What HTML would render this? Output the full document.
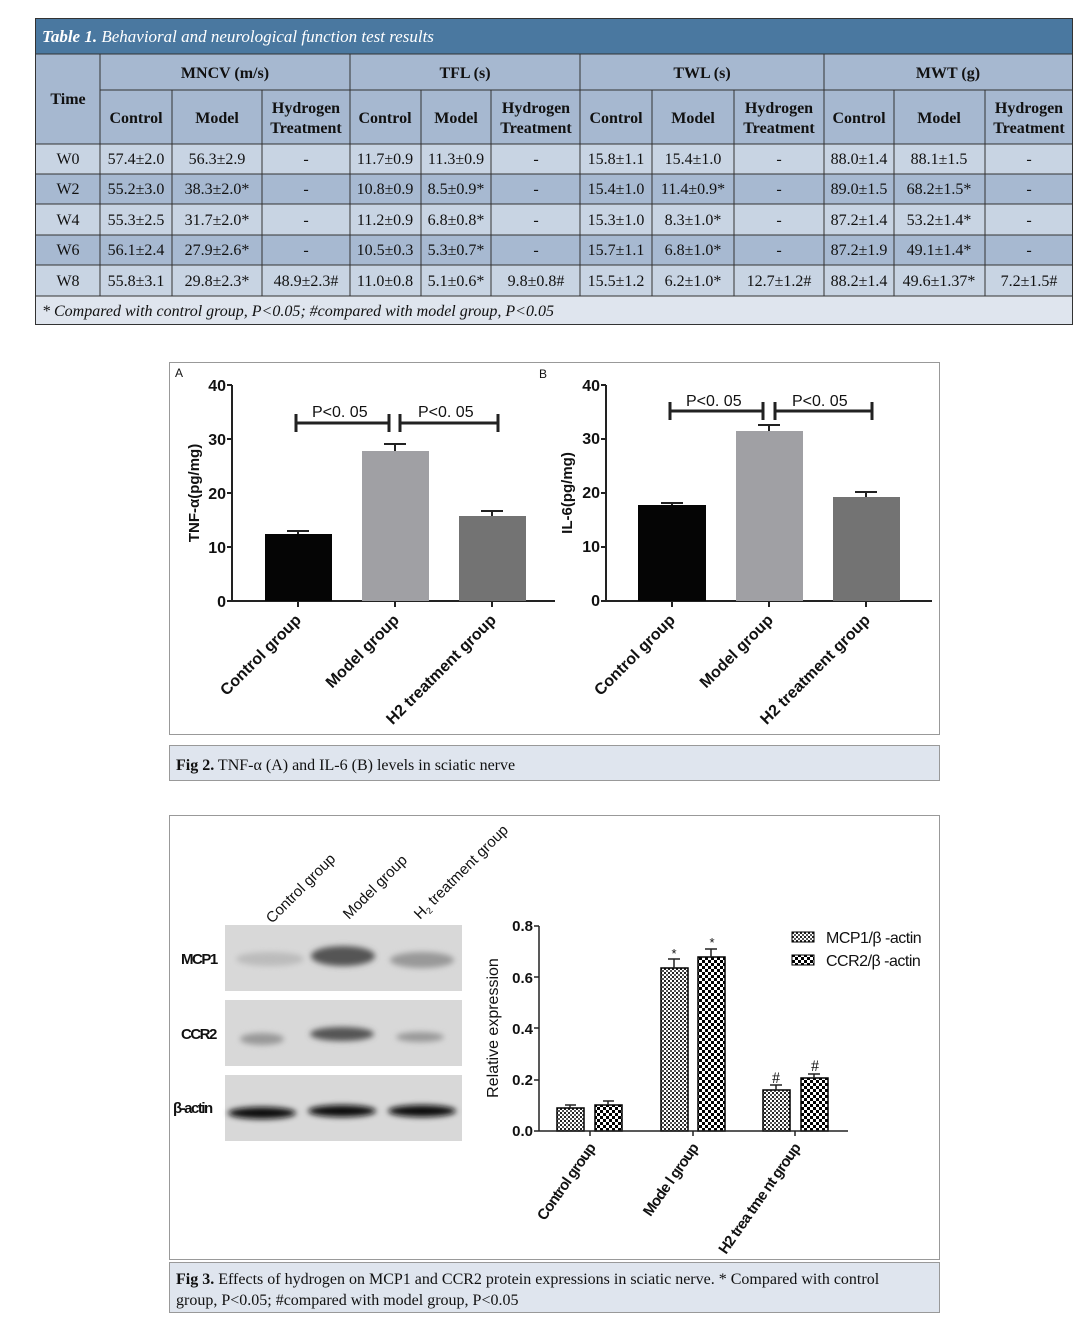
<!DOCTYPE html>
<html><head><meta charset="utf-8"><style>
html,body{margin:0;padding:0;background:#fff;}
svg{display:block;}
.s{font-family:"Liberation Serif",serif;font-size:16px;fill:#111;}
.b{font-weight:bold;}
.a{font-family:"Liberation Sans",sans-serif;fill:#111;}
</style></head><body>
<svg width="1080" height="1331" viewBox="0 0 1080 1331" xmlns="http://www.w3.org/2000/svg">
<defs>
<pattern id="p1" width="4" height="4" patternUnits="userSpaceOnUse"><rect width="4" height="4" fill="#fff"/><rect width="2" height="2" fill="#222"/><rect x="2" y="2" width="2" height="2" fill="#555"/></pattern>
<pattern id="p2" width="6" height="6" patternUnits="userSpaceOnUse"><rect width="6" height="6" fill="#fff"/><rect width="3" height="3" fill="#000"/><rect x="3" y="3" width="3" height="3" fill="#000"/></pattern>
<filter id="bl"><feGaussianBlur stdDeviation="3"/></filter>
</defs>
<!-- TABLE -->
<rect x="35" y="18" width="1038" height="36" fill="#4a78a0"/>
<text x="42" y="42" class="s" style="fill:#fff;font-style:italic;font-size:17px"><tspan font-weight="bold">Table 1.</tspan> Behavioral and neurological function test results</text>
<rect x="35" y="54" width="1038" height="90" fill="#a6b8d0"/>
<rect x="35" y="144" width="1038" height="30" fill="#c8d4e3"/>
<rect x="35" y="174" width="1038" height="30" fill="#a7b9d1"/>
<rect x="35" y="204" width="1038" height="31" fill="#c8d4e3"/>
<rect x="35" y="235" width="1038" height="30" fill="#a7b9d1"/>
<rect x="35" y="265" width="1038" height="31" fill="#c8d4e3"/>
<rect x="35" y="296" width="1038" height="29" fill="#dfe5ee"/>
<g stroke="#333" stroke-width="1" fill="none">
<rect x="35.5" y="18.5" width="1037" height="306"/>
<line x1="35" y1="54" x2="1073" y2="54"/>
<line x1="100" y1="90" x2="1073" y2="90"/>
<line x1="35" y1="144" x2="1073" y2="144"/>
<line x1="35" y1="174" x2="1073" y2="174"/>
<line x1="35" y1="204" x2="1073" y2="204"/>
<line x1="35" y1="235" x2="1073" y2="235"/>
<line x1="35" y1="265" x2="1073" y2="265"/>
<line x1="35" y1="296" x2="1073" y2="296"/>
<line x1="100" y1="54" x2="100" y2="296"/>
<line x1="350" y1="54" x2="350" y2="296"/>
<line x1="580" y1="54" x2="580" y2="296"/>
<line x1="824" y1="54" x2="824" y2="296"/>
<line x1="172" y1="90" x2="172" y2="296"/><line x1="262" y1="90" x2="262" y2="296"/>
<line x1="421" y1="90" x2="421" y2="296"/><line x1="491" y1="90" x2="491" y2="296"/>
<line x1="652" y1="90" x2="652" y2="296"/><line x1="734" y1="90" x2="734" y2="296"/>
<line x1="894" y1="90" x2="894" y2="296"/><line x1="985" y1="90" x2="985" y2="296"/>
</g>
<g class="s b" text-anchor="middle">
<text x="68" y="104">Time</text>
<text x="225" y="78">MNCV (m/s)</text><text x="465" y="78">TFL (s)</text><text x="702" y="78">TWL (s)</text><text x="948" y="78">MWT (g)</text>
<text x="136" y="123">Control</text><text x="217" y="123">Model</text><text x="306" y="113">Hydrogen</text><text x="306" y="133">Treatment</text>
<text x="385" y="123">Control</text><text x="456" y="123">Model</text><text x="536" y="113">Hydrogen</text><text x="536" y="133">Treatment</text>
<text x="616" y="123">Control</text><text x="693" y="123">Model</text><text x="779" y="113">Hydrogen</text><text x="779" y="133">Treatment</text>
<text x="859" y="123">Control</text><text x="939" y="123">Model</text><text x="1029" y="113">Hydrogen</text><text x="1029" y="133">Treatment</text>
</g>
<g class="s" text-anchor="middle">
<text x="68" y="164">W0</text><text x="136" y="164">57.4±2.0</text><text x="217" y="164">56.3±2.9</text><text x="306" y="164">-</text><text x="385" y="164">11.7±0.9</text><text x="456" y="164">11.3±0.9</text><text x="536" y="164">-</text><text x="616" y="164">15.8±1.1</text><text x="693" y="164">15.4±1.0</text><text x="779" y="164">-</text><text x="859" y="164">88.0±1.4</text><text x="939" y="164">88.1±1.5</text><text x="1029" y="164">-</text>
<text x="68" y="194">W2</text><text x="136" y="194">55.2±3.0</text><text x="217" y="194">38.3±2.0*</text><text x="306" y="194">-</text><text x="385" y="194">10.8±0.9</text><text x="456" y="194">8.5±0.9*</text><text x="536" y="194">-</text><text x="616" y="194">15.4±1.0</text><text x="693" y="194">11.4±0.9*</text><text x="779" y="194">-</text><text x="859" y="194">89.0±1.5</text><text x="939" y="194">68.2±1.5*</text><text x="1029" y="194">-</text>
<text x="68" y="225">W4</text><text x="136" y="225">55.3±2.5</text><text x="217" y="225">31.7±2.0*</text><text x="306" y="225">-</text><text x="385" y="225">11.2±0.9</text><text x="456" y="225">6.8±0.8*</text><text x="536" y="225">-</text><text x="616" y="225">15.3±1.0</text><text x="693" y="225">8.3±1.0*</text><text x="779" y="225">-</text><text x="859" y="225">87.2±1.4</text><text x="939" y="225">53.2±1.4*</text><text x="1029" y="225">-</text>
<text x="68" y="255">W6</text><text x="136" y="255">56.1±2.4</text><text x="217" y="255">27.9±2.6*</text><text x="306" y="255">-</text><text x="385" y="255">10.5±0.3</text><text x="456" y="255">5.3±0.7*</text><text x="536" y="255">-</text><text x="616" y="255">15.7±1.1</text><text x="693" y="255">6.8±1.0*</text><text x="779" y="255">-</text><text x="859" y="255">87.2±1.9</text><text x="939" y="255">49.1±1.4*</text><text x="1029" y="255">-</text>
<text x="68" y="286">W8</text><text x="136" y="286">55.8±3.1</text><text x="217" y="286">29.8±2.3*</text><text x="306" y="286">48.9±2.3#</text><text x="385" y="286">11.0±0.8</text><text x="456" y="286">5.1±0.6*</text><text x="536" y="286">9.8±0.8#</text><text x="616" y="286">15.5±1.2</text><text x="693" y="286">6.2±1.0*</text><text x="779" y="286">12.7±1.2#</text><text x="859" y="286">88.2±1.4</text><text x="939" y="286">49.6±1.37*</text><text x="1029" y="286">7.2±1.5#</text>
</g>
<text x="42" y="316" class="s" style="font-style:italic">* Compared with control group, P&lt;0.05; #compared with model group, P&lt;0.05</text>

<!-- FIG 2 -->
<rect x="169.5" y="362.5" width="770" height="372" fill="#fff" stroke="#999"/>
<rect x="169.5" y="745.5" width="770" height="35" fill="#dfe5ee" stroke="#999"/>
<text x="176" y="770" class="s"><tspan font-weight="bold">Fig 2.</tspan> TNF-α (A) and IL-6 (B) levels in sciatic nerve</text>
<text x="175" y="377" class="a" font-size="12">A</text><text x="539" y="378" class="a" font-size="12">B</text>
<g class="a" font-size="16" font-weight="bold" text-anchor="end">
<text x="226" y="391">40</text><text x="226" y="445">30</text><text x="226" y="499">20</text><text x="226" y="553">10</text><text x="226" y="607">0</text>
<text x="600" y="391">40</text><text x="600" y="444">30</text><text x="600" y="498">20</text><text x="600" y="552">10</text><text x="600" y="606">0</text>
</g>
<text transform="translate(199,493) rotate(-90)" class="a" font-size="15" font-weight="bold" text-anchor="middle">TNF-α(pg/mg)</text>
<text transform="translate(572,493) rotate(-90)" class="a" font-size="15" font-weight="bold" text-anchor="middle">IL-6(pg/mg)</text>
<g stroke="#222" stroke-width="2" fill="none">
<path d="M232 385V601H555M227 385H232M227 439H232M227 493H232M227 547H232M227 601H232M298 601V607M395 601V607M492 601V607"/>
<path d="M606 385V601H932M601 385H606M601 439H606M601 493H606M601 547H606M601 601H606M672 601V607M769 601V607M866 601V607"/>
</g>
<rect x="265" y="534" width="67" height="67" fill="#050505"/>
<rect x="362" y="451" width="67" height="150" fill="#a0a0a4"/>
<rect x="459" y="516" width="67" height="85" fill="#737373"/>
<rect x="638" y="505" width="68" height="96" fill="#050505"/>
<rect x="736" y="431" width="67" height="170" fill="#a0a0a4"/>
<rect x="833" y="497" width="67" height="104" fill="#737373"/>
<g stroke="#222" stroke-width="2" fill="none">
<path d="M298 534V531M287 531H309M395 451V444M384 444H406M492 516V511M481 511H503"/>
<path d="M672 505V503M661 503H683M769 431V425M758 425H780M866 497V492M855 492H877"/>
<g stroke-width="3"><path d="M296 414V432M296 423H389M389 414V432M400 414V432M400 423H498M498 414V432"/>
<path d="M670 402V420M670 411H763M763 402V420M775 402V420M775 411H872M872 402V420"/></g>
</g>
<g class="a" font-size="16" fill="#333"><text x="312" y="417">P&lt;0. 05</text><text x="418" y="417">P&lt;0. 05</text><text x="686" y="406">P&lt;0. 05</text><text x="792" y="406">P&lt;0. 05</text></g>
<g class="a" font-size="16" font-weight="bold" text-anchor="end">
<text transform="translate(302,621) rotate(-45)">Control group</text>
<text transform="translate(400,621) rotate(-45)">Model group</text>
<text transform="translate(497,621) rotate(-45)">H2 treatment group</text>
<text transform="translate(676,621) rotate(-45)">Control group</text>
<text transform="translate(774,621) rotate(-45)">Model group</text>
<text transform="translate(871,621) rotate(-45)">H2 treatment group</text>
</g>

<!-- FIG 3 -->
<rect x="169.5" y="815.5" width="770" height="444" fill="#fff" stroke="#999"/>
<rect x="169.5" y="1262.5" width="770" height="50" fill="#dfe5ee" stroke="#999"/>
<text x="176" y="1284" class="s"><tspan font-weight="bold">Fig 3.</tspan> Effects of hydrogen on MCP1 and CCR2 protein expressions in sciatic nerve. * Compared with control</text>
<text x="176" y="1305" class="s">group, P&lt;0.05; #compared with model group, P&lt;0.05</text>
<!-- blots -->
<rect x="225" y="925" width="237" height="66" fill="#d8d8d8"/>
<rect x="225" y="1000" width="237" height="66" fill="#d8d8d8"/>
<rect x="225" y="1075" width="237" height="66" fill="#d8d8d8"/>
<g filter="url(#bl)">
<ellipse cx="270" cy="959" rx="34" ry="7" fill="#bcbcbc"/>
<ellipse cx="343" cy="956" rx="32" ry="10" fill="#555"/>
<ellipse cx="422" cy="960" rx="32" ry="8" fill="#999"/>
<ellipse cx="262" cy="1039" rx="22" ry="6" fill="#999"/>
<ellipse cx="342" cy="1034" rx="32" ry="7" fill="#555"/>
<ellipse cx="420" cy="1037" rx="24" ry="5" fill="#999"/>
<ellipse cx="262" cy="1113" rx="34" ry="6" fill="#111"/>
<ellipse cx="342" cy="1111" rx="34" ry="6" fill="#111"/>
<ellipse cx="422" cy="1111" rx="34" ry="6" fill="#111"/>
</g>
<g class="a" font-size="15" font-weight="bold" letter-spacing="-1.5">
<text x="181" y="964">MCP1</text><text x="181" y="1039">CCR2</text><text x="173" y="1113">β-actin</text></g>
<g class="a" font-size="15" fill="#222">
<text transform="translate(272,924) rotate(-45)">Control group</text>
<text transform="translate(349,920) rotate(-45)">Model group</text>
<text transform="translate(420,920) rotate(-45)">H<tspan font-size="9" dy="3">2</tspan><tspan dy="-3"> treatment group</tspan></text>
</g>
<!-- bar chart -->
<g class="a" font-size="15" font-weight="bold" text-anchor="end">
<text x="533" y="931">0.8</text><text x="533" y="983">0.6</text><text x="533" y="1034">0.4</text><text x="533" y="1085">0.2</text><text x="533" y="1136">0.0</text></g>
<text transform="translate(498,1028) rotate(-90)" class="a" font-size="16" text-anchor="middle">Relative expression</text>
<rect x="557" y="1108" width="27" height="23" fill="url(#p1)" stroke="#000" stroke-width="1.5"/>
<rect x="595" y="1105" width="27" height="26" fill="url(#p2)" stroke="#000" stroke-width="1.5"/>
<rect x="661" y="968" width="27" height="163" fill="url(#p1)" stroke="#000" stroke-width="1.5"/>
<rect x="698" y="957" width="27" height="174" fill="url(#p2)" stroke="#000" stroke-width="1.5"/>
<rect x="763" y="1090" width="27" height="41" fill="url(#p1)" stroke="#000" stroke-width="1.5"/>
<rect x="801" y="1078" width="27" height="53" fill="url(#p2)" stroke="#000" stroke-width="1.5"/>
<g stroke="#222" stroke-width="1.5" fill="none">
<path d="M539 926V1131H848M534 926H539M534 977H539M534 1028H539M534 1080H539M534 1131H539M590 1131V1136M693 1131V1136M795 1131V1136"/>
<path d="M570 1108V1105M565 1105H576M608 1105V1101M603 1101H614M674 968V959M668 959H680M711 957V949M705 949H717M776 1090V1085M770 1085H782M814 1078V1074M808 1074H820"/>
</g>
<g class="a" font-size="13" text-anchor="middle"><text x="674" y="958">*</text><text x="712" y="947">*</text></g>
<g class="s" font-size="19" text-anchor="middle"><text x="776" y="1083">#</text><text x="815" y="1071">#</text></g>
<rect x="792" y="932" width="22" height="10" fill="url(#p1)" stroke="#000"/>
<rect x="792" y="955" width="22" height="10" fill="url(#p2)" stroke="#000"/>
<g class="a" font-size="16" fill="#222" letter-spacing="-0.5"><text x="826" y="943">MCP1/β -actin</text><text x="826" y="966">CCR2/β -actin</text></g>
<g class="a" font-size="15" font-weight="bold" text-anchor="end" letter-spacing="-0.8">
<text transform="translate(596,1148) rotate(-55)">Control group</text>
<text transform="translate(699,1148) rotate(-55)">Mode l group</text>
<text transform="translate(801,1148) rotate(-55)">H2 trea tme nt group</text>
</g>
</svg>
</body></html>
